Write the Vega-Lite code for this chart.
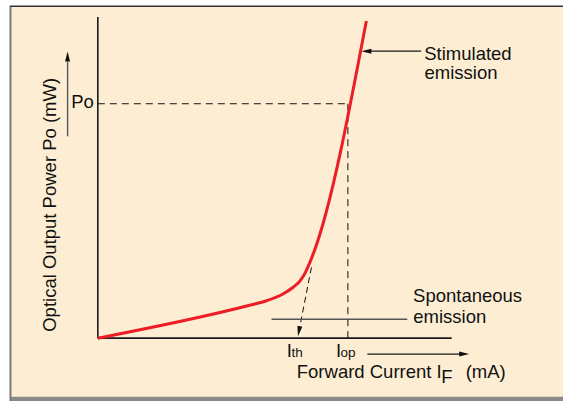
{
  "$schema": "https://vega.github.io/schema/vega-lite/v6.json",
  "width": 564,
  "height": 402,
  "padding": 0,
  "autosize": {"type": "fit", "contains": "padding"},
  "background": "#ffffff",
  "config": {"view": {"stroke": null}},
  "encoding": {
    "x": {"field": "x", "type": "quantitative", "scale": {"domain": [-19.6, 93.2], "nice": false, "zero": false}, "axis": null},
    "y": {"field": "y", "type": "quantitative", "scale": {"domain": [-2.6809, 14.4255], "nice": false, "zero": false}, "axis": null}
  },
  "layer": [
    {
      "data": {"values": [{"x": -17.6, "x2": 93.2, "y": -2.511, "y2": 14.17}]},
      "mark": {"type": "rect", "color": "#FDEED3"},
      "encoding": {"x2": {"field": "x2"}, "y2": {"field": "y2"}}
    },
    {
      "data": {"values": [{"x": -17.6, "x2": 93.2, "y": -2.6809, "y2": -2.50}]},
      "mark": {"type": "rect", "color": "#8a8a8a"},
      "encoding": {"x2": {"field": "x2"}, "y2": {"field": "y2"}}
    },
    {
      "data": {"values": [{"x": -17.5, "x2": -17.5, "y": -2.6809, "y2": 14.17}]},
      "mark": {"type": "rule", "color": "#7a7a7a", "strokeWidth": 2},
      "encoding": {"x2": {"field": "x2"}, "y2": {"field": "y2"}}
    },
    {
      "data": {"values": [{"x": -17.6, "x2": 93.2, "y": 14.16, "y2": 14.16}]},
      "mark": {"type": "rule", "color": "#333333", "strokeWidth": 1.5},
      "encoding": {"x2": {"field": "x2"}, "y2": {"field": "y2"}}
    },
    {
      "data": {"values": [
        {"x": 0, "x2": 0, "y": 0, "y2": 13.70},
        {"x": 0, "x2": 70.9, "y": 0, "y2": 0}
      ]},
      "mark": {"type": "rule", "color": "#1a1a1a", "strokeWidth": 1.6},
      "encoding": {"x2": {"field": "x2"}, "y2": {"field": "y2"}}
    },
    {
      "data": {"values": [
        {"x": 0, "x2": 50.1, "y": 10, "y2": 10},
        {"x": 50.1, "x2": 50.1, "y": 0, "y2": 10}
      ]},
      "mark": {"type": "rule", "color": "#111111", "strokeWidth": 1, "strokeDash": [7, 5]},
      "encoding": {"x2": {"field": "x2"}, "y2": {"field": "y2"}}
    },
    {
      "data": {"values": [{"x": 42.8, "x2": 40.3, "y": 3.02, "y2": 0.3}]},
      "mark": {"type": "rule", "color": "#111111", "strokeWidth": 1, "strokeDash": [6, 4]},
      "encoding": {"x2": {"field": "x2"}, "y2": {"field": "y2"}}
    },
    {
      "data": {"values": [
        {"x": 34.8, "x2": 62, "y": 0.809, "y2": 0.809, "c": "g"},
        {"x": 53.6, "x2": 64.8, "y": 12.243, "y2": 12.243, "c": "k"},
        {"x": 54, "x2": 73.2, "y": -0.681, "y2": -0.681, "c": "k"},
        {"x": -6.06, "x2": -6.06, "y": 8.609, "y2": 11.8, "c": "g"}
      ]},
      "mark": {"type": "rule", "strokeWidth": 1.4},
      "encoding": {
        "x2": {"field": "x2"}, "y2": {"field": "y2"},
        "color": {"field": "c", "type": "nominal", "scale": {"domain": ["g", "k"], "range": ["#555555", "#1a1a1a"]}, "legend": null}
      }
    },
    {
      "data": {"values": [
        {"x": -6.06, "y": 12.226, "a": 0},
        {"x": 52.8, "y": 12.243, "a": 270},
        {"x": 74.4, "y": -0.681, "a": 90},
        {"x": 40.1, "y": 0.085, "a": 191}
      ]},
      "mark": {"type": "point", "shape": "M0,0L-0.5,2L0.5,2Z", "filled": true, "color": "#111111", "opacity": 1, "size": 100, "strokeWidth": 0},
      "encoding": {"angle": {"field": "a", "type": "quantitative", "scale": null}}
    },
    {
      "data": {"values": [
        {"x": 0, "y": 0},
        {"x": 30.4, "y": 1.404},
        {"x": 33.8, "y": 1.596},
        {"x": 37.0, "y": 1.872},
        {"x": 39.0, "y": 2.149},
        {"x": 40.6, "y": 2.468},
        {"x": 41.6, "y": 2.809},
        {"x": 42.4, "y": 3.191},
        {"x": 43.2, "y": 3.617},
        {"x": 53.8, "y": 13.532}
      ]},
      "mark": {"type": "line", "color": "#EE1C25", "strokeWidth": 3, "interpolate": "monotone"}
    },
    {
      "data": {"values": [
        {"x": 65.4, "y": 11.872, "t": "Stimulated", "s": 18.5, "a": 0},
        {"x": 65.46, "y": 11.051, "t": "emission", "s": 18.5, "a": 0},
        {"x": 63.16, "y": 1.553, "t": "Spontaneous", "s": 18.5, "a": 0},
        {"x": 63.2, "y": 0.647, "t": "emission", "s": 18.5, "a": 0},
        {"x": 37.86, "y": -0.809, "t": "I", "s": 18.5, "a": 0},
        {"x": 38.8, "y": -0.809, "t": "th", "s": 13.5, "a": 0},
        {"x": 47.72, "y": -0.809, "t": "I", "s": 18.5, "a": 0},
        {"x": 48.64, "y": -0.809, "t": "op", "s": 13.5, "a": 0},
        {"x": 39.86, "y": -1.715, "t": "Forward Current I", "s": 18.5, "a": 0},
        {"x": 68.8, "y": -1.902, "t": "F", "s": 18.5, "a": 0},
        {"x": 73.7, "y": -1.715, "t": "(mA)", "s": 18.5, "a": 0},
        {"x": -5.34, "y": 9.817, "t": "Po", "s": 18.5, "a": 0},
        {"x": -8.4, "y": 0.272, "t": "Optical Output Power Po (mW)", "s": 18.5, "a": 270}
      ]},
      "mark": {"type": "text", "align": "left", "baseline": "alphabetic", "font": "Liberation Sans", "color": "#111111"},
      "encoding": {
        "text": {"field": "t"},
        "size": {"field": "s", "type": "quantitative", "scale": null},
        "angle": {"field": "a", "type": "quantitative", "scale": null}
      }
    }
  ]
}
